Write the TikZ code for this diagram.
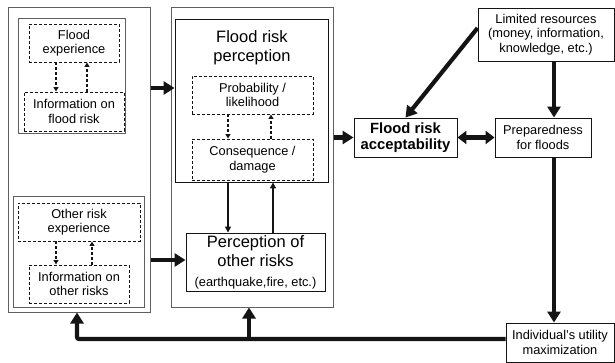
\documentclass[tikz,border=0pt]{standalone}
\usepackage{fontspec}
\setmainfont{Liberation Sans}
\usepackage{tikz}
\usetikzlibrary{arrows.meta, positioning}
\definecolor{mydark}{RGB}{20,20,20}
\definecolor{mygray}{RGB}{95,95,95}
\newcommand{\normfont}{\fontsize{12.8}{14.5}\selectfont}
\newcommand{\largefont}{\fontsize{16.5}{19}\selectfont}
\tikzset{
  groupbox/.style={rectangle, draw=mygray, line width=1pt, inner sep=0pt},
  block/.style={rectangle, draw=mydark, line width=0.9pt, align=center,
    inner sep=0pt, font=\normfont},
  dashbox/.style={rectangle, draw=mydark, line width=0.95pt,
    dash pattern=on 3pt off 2pt, align=center, inner sep=0pt, font=\normfont},
  thickarrow/.style={-{Triangle[length=11pt,width=13pt]}, line width=4.2pt, color=mydark},
  thickline/.style={line width=4.2pt, color=mydark},
  arrow/.style={-{Triangle[length=6pt,width=6pt]}, line width=1.5pt, color=mydark},
  dasharrow/.style={-{Triangle[length=4.5pt,width=5pt]}, line width=1.1pt,
    dash pattern=on 3pt off 2pt, color=mydark}
}

\begin{document}
\begin{tikzpicture}[x=1pt, y=-1pt]
  \useasboundingbox (0,0) rectangle (615,363);

  % Left column: experience and information
  \node[groupbox, minimum width=142pt, minimum height=304pt] (leftouter) at (79,160) {};
  \node[groupbox, minimum width=107pt, minimum height=115pt] (floodgrp) at (71.5,76.5) {};
  \node[dashbox, minimum width=90pt, minimum height=38pt] (floodexp) at (74,43) {Flood\\experience};
  \node[dashbox, minimum width=100pt, minimum height=39pt] (infoflood) at (74,111.5) {Information on\\flood risk};
  \node[groupbox, minimum width=131pt, minimum height=110pt] (othergrp) at (78.5,252) {};
  \node[dashbox, minimum width=122pt, minimum height=38pt] (otherexp) at (79,222) {Other risk\\experience};
  \node[dashbox, minimum width=100pt, minimum height=38pt] (infoother) at (79,284) {Information on\\other risks};

  \draw[dasharrow] ([xshift=-18pt]floodexp.south) -- ([xshift=-18pt]infoflood.north);
  \draw[dasharrow] ([xshift=13pt]infoflood.north) -- ([xshift=13pt]floodexp.south);
  \draw[dasharrow] ([xshift=-23pt]otherexp.south) -- ([xshift=-23pt]infoother.north);
  \draw[dasharrow] ([xshift=13pt]infoother.north) -- ([xshift=13pt]otherexp.south);

  % Middle column: perception
  \node[groupbox, minimum width=162pt, minimum height=299pt] (midouter) at (252,157.5) {};
  \node[block, minimum width=153pt, minimum height=163pt] (frp) at (251.5,100.5) {};
  \node[font=\largefont, align=center, inner sep=0pt] (frptitle) at (252,48) {Flood risk\\perception};
  \node[dashbox, minimum width=121pt, minimum height=38pt] (prob) at (252.5,95) {Probability /\\likelihood};
  \node[dashbox, minimum width=121pt, minimum height=41pt] (cons) at (252.5,159.5) {Consequence /\\damage};
  \node[block, minimum width=139pt, minimum height=58pt, font=\largefont] (otherper) at (255.5,262)
    {Perception of\\other risks\\[1pt]\normfont (earthquake,fire, etc.)};

  \draw[dasharrow] ([xshift=-24.5pt]prob.south) -- ([xshift=-24.5pt]cons.north);
  \draw[dasharrow] ([xshift=18.5pt]cons.north) -- ([xshift=18.5pt]prob.south);
  \draw[arrow] ([xshift=-23.5pt]frp.south) -- ([xshift=-27.5pt]otherper.north);
  \draw[arrow] ([xshift=17.5pt]otherper.north) -- ([xshift=21.5pt]frp.south);

  % Right part
  \node[block, minimum width=103pt, minimum height=39pt, font=\fontsize{14.8}{16.5}\selectfont\bfseries] (fra) at (405.5,137.5) {Flood risk\\acceptability};
  \node[block, minimum width=96pt, minimum height=39pt] (prep) at (543,137.5) {Preparedness\\for floods};
  \node[block, minimum width=136pt, minimum height=53pt] (limited) at (546,34.5) {Limited resources\\(money, information,\\knowledge, etc.)};
  \node[block, minimum width=108pt, minimum height=39pt] (indiv) at (560,342.5) {Individual’s utility\\maximization};

  % Thick connectors
  \draw[thickarrow] (leftouter.east |- 0,88) -- (frp.west |- 0,88);
  \draw[thickarrow] (leftouter.east |- 0,260) -- (otherper.west |- 0,260);
  \draw[thickarrow] (midouter.east |- fra.west) -- (fra.west);
  \draw[thickline, {Triangle[length=9pt,width=13pt]}-{Triangle[length=9pt,width=13pt]}] (fra.east) -- (prep.west);
  \draw[thickarrow] (limited.west |- 0,28) -- (fra.north);
  \draw[thickarrow] (limited.south -| 554,0) -- (prep.north -| 554,0);
  \draw[thickarrow] (prep.south -| 554,0) -- (indiv.north -| 554,0);

  % Feedback from utility maximization
  \coordinate (branch) at (249,339);
  \draw[thickarrow, rounded corners=2pt] (indiv.west |- 0,339) -| ([xshift=-2pt]leftouter.south);
  \draw[thickarrow] (branch) -- (midouter.south -| 249,0);
\end{tikzpicture}
\end{document}
